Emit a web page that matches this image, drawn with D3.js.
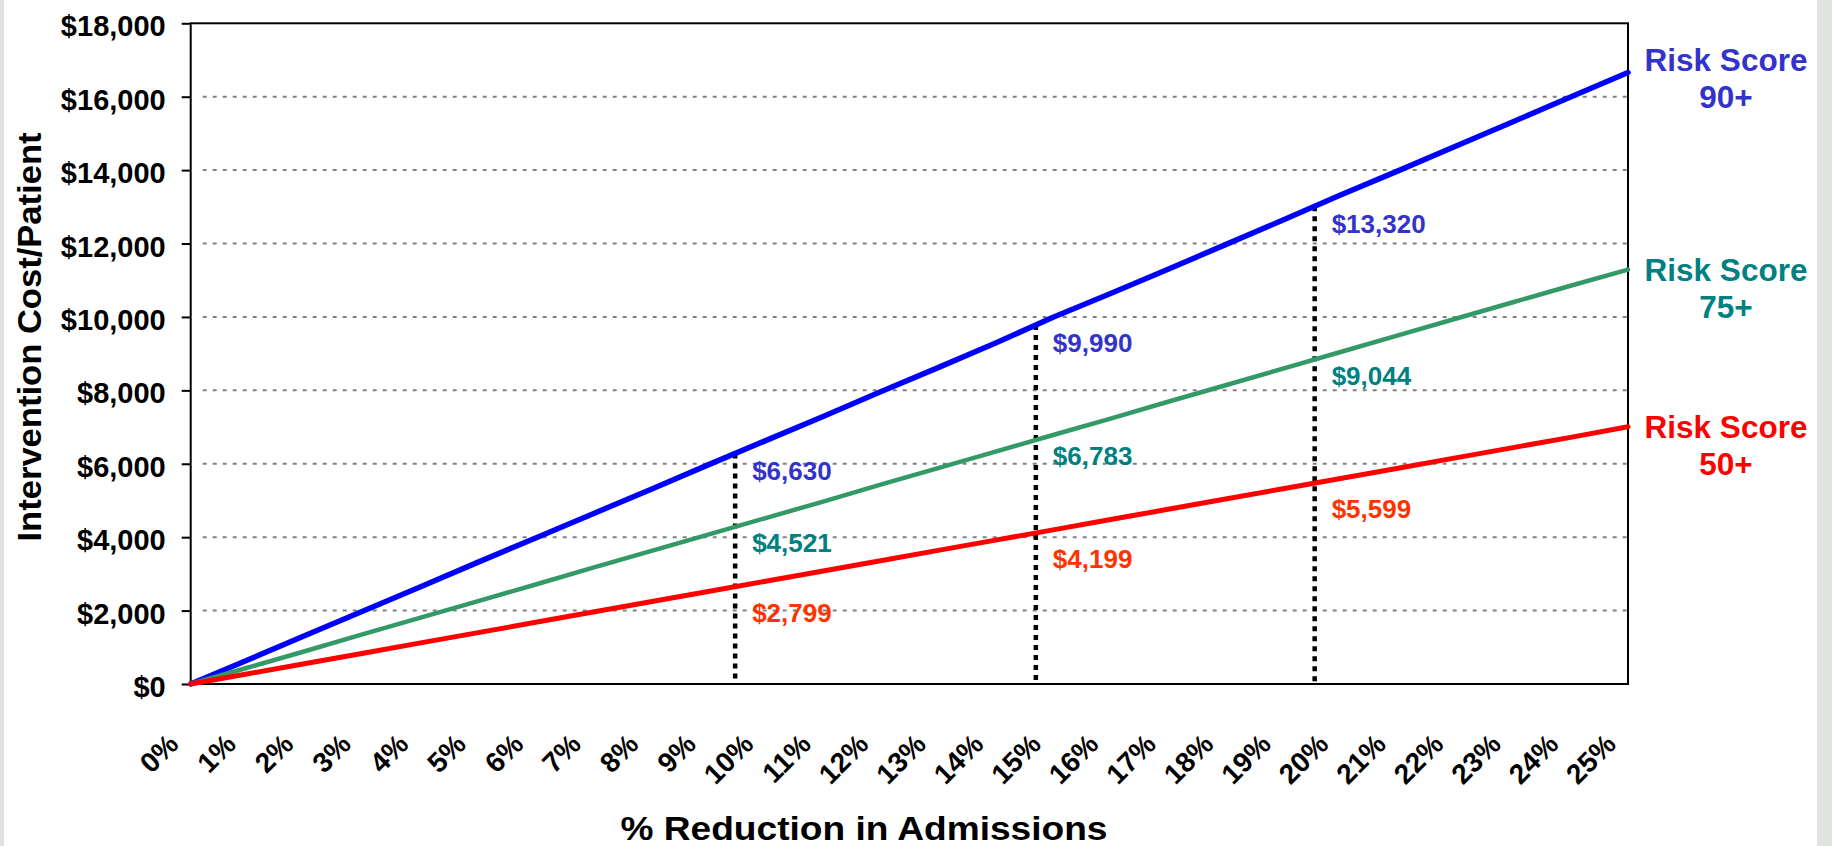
<!DOCTYPE html>
<html>
<head>
<meta charset="utf-8">
<script src="https://cdn.jsdelivr.net/npm/d3@7"></script>
<style>
  html, body { margin: 0; padding: 0; background: #ffffff; }
  svg { display: block; }
  text { font-family: "Liberation Sans", Arial, sans-serif; font-weight: bold; }
</style>
</head>
<body>
<svg id="chart" width="1832" height="846"></svg>
<script>
// ---------- data ----------
const pct = [0,1,2,3,4,5,6,7,8,9,10,11,12,13,14,15,16,17,18,19,20,21,22,23,24,25];
const risk90 = [0,660,1330,1990,2650,3320,3980,4640,5300,5970,6630,7290,7960,8620,9290,9990,10640,11300,11970,12640,13320,13980,14650,15320,15990,16660];
const risk75 = [0,450,900,1360,1810,2260,2710,3170,3620,4070,4521,4970,5430,5880,6330,6783,7230,7690,8140,8590,9044,9500,9950,10400,10850,11290];
const risk50 = [0,280,560,840,1120,1400,1680,1960,2240,2520,2799,3080,3360,3640,3920,4199,4480,4760,5040,5320,5599,5880,6160,6440,6720,7010];
const seriesNames = ["Risk Score 90+", "Risk Score 75+", "Risk Score 50+"];
const yTicks = [0,2000,4000,6000,8000,10000,12000,14000,16000,18000];
const markerTargets = [10, 15, 20];        // % reductions annotated
const markerDrawnAt = [9.47, 14.7, 19.55]; // where the dotted lines sit in the picture

// ---------- layout ----------
const svg = d3.select("#chart");
const L = 190.7, R = 1628, T = 23.3, B = 684;
const x = d3.scaleLinear().domain([0, 25]).range([L, R]);
const y = d3.scaleLinear().domain([0, 18000]).range([B, T]);

const series = [
  { name: seriesNames[0], values: risk90, line: "#0000ff", text: "#3333cc", label: "#3333cc", width: 5.5, lblDy: 27, endDy: -1 },
  { name: seriesNames[1], values: risk75, line: "#339966", text: "#008080", label: "#008080", width: 4.5, lblDy: 25, endDy: 11 },
  { name: seriesNames[2], values: risk50, line: "#ff0000", text: "#ff0000", label: "#ff3300", width: 5,   lblDy: 35, endDy: 11 }
];

// side strips
svg.append("rect").attr("x", 0).attr("y", 0).attr("width", 4).attr("height", 846).attr("fill", "#dfe4e1");
svg.append("rect").attr("x", 1817).attr("y", 0).attr("width", 15).attr("height", 846).attr("fill", "#dfe4e1");

// gridlines
svg.append("g").selectAll("line").data(yTicks.filter(v => v > 0 && v < 18000)).join("line")
  .attr("x1", L + 12).attr("x2", R).attr("y1", d => y(d)).attr("y2", d => y(d))
  .attr("stroke", "#808080").attr("stroke-width", 2).attr("stroke-dasharray", "4,6");

// y axis
const yAxis = d3.axisLeft(y).tickValues(yTicks).tickSize(9).tickPadding(16)
  .tickFormat(d => "$" + d3.format(",")(d));
const gy = svg.append("g").attr("transform", `translate(${L},0)`).call(yAxis);
gy.select(".domain").remove();
gy.selectAll(".tick line").attr("stroke", "#000").attr("stroke-width", 2);
gy.selectAll(".tick text").attr("font-size", 29).attr("fill", "#000").attr("dy", "12.5px")
  .attr("font-family", "Liberation Sans, Arial, sans-serif").attr("font-weight", "bold");

// x axis labels
const xAxis = d3.axisBottom(x).tickValues(pct).tickSize(0).tickFormat(d => d + "%");
const gx = svg.append("g").attr("transform", `translate(0,${B})`).call(xAxis);
gx.select(".domain").remove();
gx.selectAll(".tick text")
  .attr("font-size", 28).attr("fill", "#000")
  .attr("font-family", "Liberation Sans, Arial, sans-serif").attr("font-weight", "bold")
  .attr("text-anchor", "end").attr("dy", 0).attr("y", 0)
  .attr("transform", "translate(-11,62) rotate(-45)");

// plot frame
svg.append("rect").attr("x", L).attr("y", T).attr("width", R - L).attr("height", B - T)
  .attr("fill", "none").attr("stroke", "#000").attr("stroke-width", 2);

// vertical dotted markers
const interp = (vals, p) => {
  const i = Math.min(Math.floor(p), vals.length - 2);
  const f = p - i;
  return vals[i] + (vals[i + 1] - vals[i]) * f;
};
svg.append("g").selectAll("line").data(markerDrawnAt).join("line")
  .attr("x1", d => x(d)).attr("x2", d => x(d))
  .attr("y1", d => y(interp(risk90, d))).attr("y2", B)
  .attr("stroke", "#000").attr("stroke-width", 4.5).attr("stroke-dasharray", "5,5");

// lines
const lineGen = d3.line().x((d, i) => x(pct[i])).y(d => y(d));
svg.append("g").selectAll("path").data(series).join("path")
  .attr("d", s => lineGen(s.values))
  .attr("fill", "none").attr("stroke", s => s.line).attr("stroke-width", s => s.width)
  .attr("stroke-linejoin", "round").attr("stroke-linecap", "round");

// value labels
series.forEach(s => {
  markerTargets.forEach((t, k) => {
    const p = markerDrawnAt[k];
    const v = s.values[pct.indexOf(t)];
    svg.append("text")
      .attr("x", x(p) + 17)
      .attr("y", y(interp(s.values, p)) + s.lblDy)
      .attr("font-size", 26).attr("fill", s.label)
      .text("$" + d3.format(",")(v));
  });
});

// series end labels
series.forEach(s => {
  const parts = s.name.split(" ");
  const last = s.values[s.values.length - 1];
  const cx = 1726;
  const t = svg.append("text").attr("text-anchor", "middle").attr("font-size", 31.5).attr("fill", s.text)
    .attr("x", cx).attr("y", y(last) + s.endDy);
  t.append("tspan").attr("x", cx).text(parts[0] + " " + parts[1]);
  t.append("tspan").attr("x", cx).attr("dy", 37).text(parts[2]);
});

// axis titles
svg.append("text").attr("text-anchor", "middle").attr("font-size", 34).attr("fill", "#000")
  .attr("transform", "translate(41,337) rotate(-90)")
  .attr("textLength", 409).attr("lengthAdjust", "spacingAndGlyphs")
  .text("Intervention Cost/Patient");
svg.append("text").attr("text-anchor", "middle").attr("font-size", 33).attr("fill", "#000")
  .attr("x", 864).attr("y", 840)
  .attr("textLength", 487).attr("lengthAdjust", "spacingAndGlyphs")
  .text("% Reduction in Admissions");
</script>
</body>
</html>
